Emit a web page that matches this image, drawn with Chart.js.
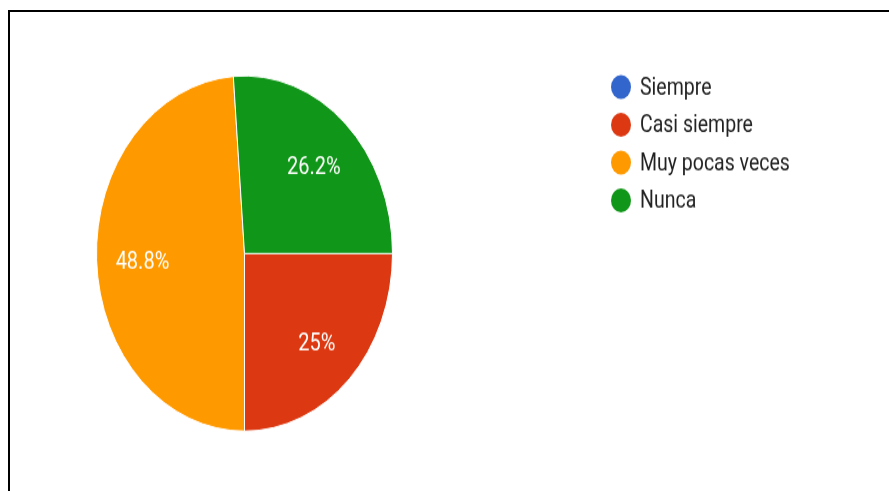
<!DOCTYPE html>
<html>
<head>
<meta charset="utf-8">
<script src="https://cdn.jsdelivr.net/npm/chart.js@4/dist/chart.umd.min.js"></script>
<style>
  html, body { margin: 0; padding: 0; background: #fff; overflow: hidden; }
  body { width: 889px; height: 491px; position: relative; }
  .frame {
    position: absolute; left: 8px; top: 10px;
    width: 1000px; height: 600px;
    border-top: 2px solid #000; border-left: 2px solid #000;
  }
  /* the chart is drawn flat and stretched vertically */
  .stretch {
    position: absolute; left: 0; top: 0;
    width: 889px; height: 410px;
    transform: scaleY(1.2); transform-origin: 0 0;
  }
</style>
</head>
<body>
<div class="frame"></div>
<div class="stretch"><canvas class="my-chart" width="889" height="410"></canvas></div>
<script>
const categories = ["Siempre", "Casi siempre", "Muy pocas veces", "Nunca"];
const percents = [0, 25, 48.8, 26.2];
const colors = ["#3366cc", "#dc3912", "#ff9900", "#109618"];

// white percentage text inside each slice
const sliceLabels = {
  id: "sliceLabels",
  afterDatasetsDraw(chart) {
    const ctx = chart.ctx;
    const meta = chart.getDatasetMeta(0);
    ctx.save();
    ctx.fillStyle = "#ffffff";
    ctx.font = "20px Roboto";
    ctx.textAlign = "center";
    ctx.textBaseline = "middle";
    meta.data.forEach((arc, i) => {
      const v = chart.data.datasets[0].data[i];
      if (!v) return;
      const p = arc.getProps(["x", "y", "startAngle", "endAngle", "outerRadius"], true);
      const mid = (p.startAngle + p.endAngle) / 2;
      const r = p.outerRadius * 0.69;
      ctx.fillText(v + "%", p.x + Math.cos(mid) * r, p.y + Math.sin(mid) * r + 3.5);
    });
    ctx.restore();
  },
};

// legend with round markers, stacked on the right
const roundLegend = {
  id: "roundLegend",
  afterDraw(chart) {
    const ctx = chart.ctx;
    const ds = chart.data.datasets[0];
    ctx.save();
    ctx.font = "19.5px Roboto";
    ctx.textBaseline = "middle";
    chart.data.labels.forEach((label, i) => {
      const y = 72.5 + i * 31.5;
      ctx.fillStyle = ds.backgroundColor[i];
      ctx.beginPath();
      ctx.arc(621, y, 10, 0, Math.PI * 2);
      ctx.fill();
      ctx.fillStyle = "#222222";
      ctx.fillText(label, 640, y + 1.5);
    });
    ctx.restore();
  },
};

const myChart = document.querySelector(".my-chart");

new Chart(myChart, {
  type: "pie",
  data: {
    labels: categories,
    datasets: [
      {
        data: percents,
        backgroundColor: colors,
        borderColor: "#ffffff",
        borderWidth: 1,
      },
    ],
  },
  options: {
    responsive: false,
    animation: false,
    rotation: 90, // first non-empty slice starts at 3 o'clock
    layout: {
      padding: { left: 96, top: 62.75, right: 496, bottom: 50.25 },
    },
    plugins: {
      legend: { display: false },
      tooltip: { enabled: false },
    },
  },
  plugins: [sliceLabels, roundLegend],
});
</script>
</body>
</html>
